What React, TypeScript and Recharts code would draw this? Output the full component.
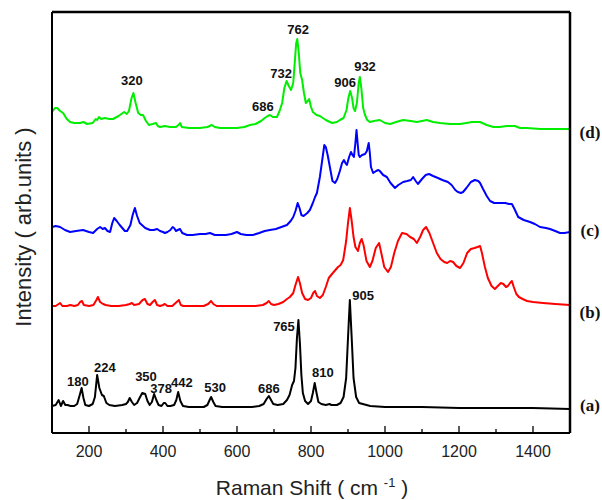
import React from 'react';
import { LineChart, Line, XAxis, YAxis, ReferenceDot, ReferenceLine } from 'recharts';

// Wavenumber (cm-1) axis ticks
const wavenumberTicks = [200, 300, 400, 500, 600, 700, 800, 900, 1000, 1100, 1200, 1300, 1400];
const labeledTicks = [200, 400, 600, 800, 1000, 1200, 1400];
const xDomain = [100, 1500];
const yDomain = [0, 421];

// Spectrum (a) – black: [wavenumber, intensity (arb., offset)]
const spectrumA: number[][] = [
  [100, 27], [110, 28], [118, 33], [124, 27], [130, 32], [136, 28], [142, 28], [150, 27], [160, 27], [168, 29],
  [175, 38], [180, 45], [185, 35], [190, 28], [200, 27], [210, 29], [216, 36], [222, 58], [228, 45], [235, 38],
  [240, 37], [247, 30], [255, 28], [270, 27], [290, 28], [300, 29], [305, 31], [310, 35], [316, 31], [322, 28],
  [330, 30], [338, 36], [344, 40], [352, 39], [358, 32], [364, 28], [370, 31], [376, 39], [382, 33], [388, 28],
  [396, 27], [402, 30], [406, 30], [412, 27], [420, 27], [430, 28], [436, 33], [441, 41], [447, 32], [454, 27],
  [470, 26], [490, 26], [510, 26], [520, 28], [526, 33], [530, 36], [536, 31], [542, 27], [560, 26], [600, 26],
  [640, 26], [660, 27], [672, 29], [680, 34], [686, 37], [692, 33], [698, 29], [710, 28], [725, 29], [735, 33],
  [742, 38], [749, 48], [754, 52], [758, 65], [762, 95], [766, 113], [770, 90], [774, 58], [778, 40], [784, 32],
  [792, 29], [800, 32], [805, 40], [810, 50], [815, 40], [820, 31], [828, 29], [840, 28], [850, 29], [855, 28],
  [870, 28], [880, 30], [888, 36], [895, 55], [900, 95], [905, 133], [910, 95], [915, 55], [922, 36], [930, 30],
  [940, 29], [960, 27], [1000, 26], [1100, 26], [1200, 25], [1300, 25], [1400, 25], [1500, 24],
];

// Spectrum (b) – red
const spectrumB: number[][] = [
  [100, 127], [110, 127], [118, 129], [122, 130], [128, 127], [140, 127], [150, 128], [160, 127], [170, 128], [176, 131],
  [181, 132], [186, 128], [200, 127], [212, 128], [220, 133], [224, 136], [230, 131], [238, 129], [245, 128], [260, 127],
  [280, 127], [300, 128], [310, 129], [316, 130], [322, 128], [335, 129], [345, 133], [351, 134], [358, 129], [365, 128],
  [372, 131], [378, 133], [384, 128], [392, 127], [400, 128], [405, 129], [412, 127], [425, 127], [437, 131], [443, 133],
  [448, 128], [455, 127], [480, 127], [510, 127], [522, 129], [530, 132], [536, 129], [545, 127], [600, 127], [650, 127],
  [670, 128], [680, 130], [686, 132], [692, 129], [700, 128], [712, 129], [725, 131], [735, 134], [743, 136], [752, 140],
  [758, 148], [765, 156], [770, 150], [776, 140], [784, 134], [792, 133], [800, 135], [806, 140], [811, 142], [816, 137],
  [824, 135], [832, 138], [840, 146], [848, 155], [859, 160], [866, 163], [873, 166], [880, 168], [887, 173], [895, 192],
  [900, 210], [905, 225], [910, 212], [915, 196], [920, 186], [927, 182], [932, 190], [937, 194], [942, 188], [950, 172],
  [959, 166], [966, 172], [975, 185], [984, 190], [990, 180], [998, 166], [1008, 161], [1016, 166], [1025, 180], [1035, 192],
  [1046, 200], [1058, 199], [1068, 196], [1078, 194], [1086, 190], [1095, 196], [1103, 203], [1111, 206], [1120, 200], [1130, 190],
  [1140, 180], [1150, 174], [1160, 171], [1168, 170], [1176, 172], [1184, 171], [1193, 167], [1203, 165], [1212, 170], [1222, 180],
  [1232, 184], [1242, 185], [1250, 186], [1257, 187], [1262, 180], [1270, 166], [1278, 155], [1288, 147], [1297, 144], [1305, 147],
  [1313, 150], [1320, 149], [1327, 146], [1332, 147], [1338, 150], [1343, 152], [1348, 146], [1355, 139], [1362, 136], [1372, 134],
  [1384, 132], [1400, 131], [1427, 130], [1460, 129], [1500, 128],
];

// Spectrum (c) – blue
const spectrumC: number[][] = [
  [100, 206], [110, 207], [122, 206], [135, 203], [149, 201], [165, 202], [184, 203], [200, 201], [211, 200], [222, 204],
  [230, 206], [237, 204], [243, 205], [250, 202], [257, 201], [263, 210], [268, 215], [275, 212], [283, 208], [290, 205],
  [297, 202], [303, 202], [312, 208], [318, 218], [324, 225], [330, 217], [337, 210], [343, 208], [352, 205], [365, 203],
  [375, 203], [384, 204], [392, 202], [400, 201], [405, 200], [412, 201], [420, 203], [426, 206], [430, 205], [435, 202],
  [440, 203], [446, 204], [452, 200], [465, 198], [480, 198], [500, 199], [515, 199], [527, 200], [540, 198], [554, 198],
  [570, 198], [585, 199], [600, 201], [610, 199], [625, 198], [643, 198], [660, 200], [675, 202], [689, 203], [705, 204],
  [720, 206], [735, 208], [745, 212], [752, 216], [758, 222], [764, 230], [769, 225], [774, 218], [780, 217], [790, 220],
  [797, 223], [805, 230], [811, 236], [816, 240], [820, 248], [824, 256], [830, 272], [836, 288], [840, 286], [845, 278],
  [851, 266], [858, 252], [865, 250], [871, 254], [878, 262], [884, 270], [889, 273], [893, 270], [897, 268], [903, 276],
  [908, 281], [912, 278], [916, 276], [920, 290], [923, 303], [926, 290], [929, 278], [932, 276], [938, 278], [946, 279],
  [951, 282], [956, 290], [959, 280], [962, 266], [968, 260], [976, 262], [982, 263], [986, 262], [995, 258], [1005, 256],
  [1015, 250], [1027, 245], [1036, 248], [1049, 251], [1060, 252], [1070, 253], [1076, 256], [1083, 252], [1089, 249], [1100, 254],
  [1110, 258], [1119, 259], [1130, 257], [1143, 255], [1155, 253], [1170, 251], [1180, 248], [1190, 243], [1197, 241], [1205, 240],
  [1211, 241], [1220, 245], [1232, 251], [1243, 253], [1252, 252], [1257, 250], [1265, 244], [1275, 237], [1284, 232], [1295, 230],
  [1311, 230], [1325, 230], [1335, 229], [1343, 229], [1350, 224], [1360, 216], [1375, 213], [1392, 211], [1405, 209], [1419, 206],
  [1435, 205], [1446, 204], [1460, 202], [1473, 200], [1485, 200], [1500, 201],
];

// Spectrum (d) – green
const spectrumD: number[][] = [
  [100, 321], [108, 325], [114, 325], [122, 322], [130, 320], [140, 314], [149, 311], [160, 310], [176, 310], [185, 311],
  [195, 309], [210, 310], [218, 314], [222, 313], [227, 316], [233, 314], [243, 315], [255, 314], [265, 314], [280, 317],
  [295, 321], [302, 319], [308, 322], [315, 335], [320, 340], [326, 330], [333, 320], [340, 318], [346, 318], [354, 312],
  [362, 308], [372, 309], [381, 310], [386, 307], [392, 306], [405, 307], [419, 306], [435, 306], [442, 308], [446, 310],
  [451, 306], [470, 305], [500, 305], [520, 306], [532, 308], [540, 306], [554, 305], [580, 305], [600, 305], [620, 306],
  [635, 308], [650, 309], [665, 312], [675, 315], [683, 317], [689, 318], [697, 316], [708, 316], [715, 322], [722, 330],
  [728, 345], [734, 352], [740, 347], [746, 343], [752, 350], [756, 370], [760, 390], [763, 394], [767, 380], [771, 360],
  [776, 353], [781, 340], [786, 330], [791, 332], [795, 334], [800, 326], [805, 321], [815, 318], [824, 317], [840, 313],
  [857, 310], [870, 311], [878, 313], [888, 315], [896, 323], [901, 335], [906, 342], [911, 335], [915, 325], [919, 322],
  [924, 330], [929, 350], [932, 356], [936, 345], [941, 325], [946, 318], [952, 313], [959, 311], [970, 312], [986, 313],
  [1000, 310], [1014, 309], [1030, 311], [1049, 313], [1070, 312], [1086, 311], [1100, 312], [1113, 313], [1130, 311], [1149, 310],
  [1175, 309], [1203, 309], [1220, 310], [1235, 311], [1257, 311], [1275, 308], [1293, 306], [1310, 306], [1329, 307], [1351, 307],
  [1365, 305], [1383, 305], [1420, 304], [1460, 304], [1500, 304],
];

// Peak annotations: text anchored at (wavenumber, intensity)
const peakLabelsA = [
  { x: 170, y: 52, text: '180' },
  { x: 243, y: 66, text: '224' },
  { x: 354, y: 57, text: '350' },
  { x: 395, y: 45, text: '378' },
  { x: 451, y: 51, text: '442' },
  { x: 541, y: 46, text: '530' },
  { x: 686, y: 45, text: '686' },
  { x: 727, y: 107, text: '765' },
  { x: 832, y: 61, text: '810' },
  { x: 941, y: 138, text: '905' },
];
const peakLabelsD = [
  { x: 316, y: 353, text: '320' },
  { x: 670, y: 327, text: '686' },
  { x: 719, y: 360, text: '732' },
  { x: 765, y: 404, text: '762' },
  { x: 892, y: 351, text: '906' },
  { x: 946, y: 367, text: '932' },
];
const sampleLabels = [
  { x: 1500, y: 28, text: '(a)' },
  { x: 1500, y: 121, text: '(b)' },
  { x: 1500, y: 203, text: '(c)' },
  { x: 1500, y: 301, text: '(d)' },
];

const seriesList = [
  { name: 'a', data: spectrumA, color: '#000000' },
  { name: 'b', data: spectrumB, color: '#ff0000' },
  { name: 'c', data: spectrumC, color: '#0000ff' },
  { name: 'd', data: spectrumD, color: '#00ee00' },
];

const toPoints = (arr: number[][]) => arr.map(([x, y]) => ({ x, y }));

const SANS = '"Liberation Sans", Arial, sans-serif';
const SERIF = '"Liberation Serif", "Times New Roman", serif';

const renderTick = (props: any) => {
  const { x, y, payload } = props;
  const v = payload.value;
  const major = labeledTicks.includes(v);
  return (
    <g>
      <line x1={x} x2={x} y1={y} y2={y - (major ? 7 : 4)} stroke="#000" strokeWidth={1.3} />
      {major && (
        <text x={x} y={y + 24} textAnchor="middle" fontFamily={SANS} fontSize={16} fill="#222">
          {v}
        </text>
      )}
    </g>
  );
};

const peakShape = (text: string) => (p: any) => (
  <text
    x={p.cx}
    y={p.cy}
    textAnchor="middle"
    dominantBaseline="central"
    fontFamily={SANS}
    fontWeight="bold"
    fontSize={13}
    fill="#111"
  >
    {text}
  </text>
);

const sampleShape = (text: string) => (p: any) => (
  <text
    x={p.cx + 20}
    y={p.cy}
    textAnchor="middle"
    dominantBaseline="central"
    fontFamily={SERIF}
    fontWeight="bold"
    fontSize={17}
    fill="#111"
  >
    {text}
  </text>
);

export default function App() {
  return (
    <div style={{ position: 'absolute', left: 0, top: 0, width: 602, height: 500, background: '#fff' }}>
      <LineChart width={602} height={500} margin={{ top: 12, right: 32, left: 52, bottom: 0 }}>
        <XAxis
          dataKey="x"
          type="number"
          domain={xDomain}
          ticks={wavenumberTicks}
          interval={0}
          tick={renderTick}
          tickLine={false}
          axisLine={false}
          tickSize={0}
          tickMargin={0}
          height={67}
          allowDataOverflow
        />
        <YAxis type="number" domain={yDomain} hide allowDataOverflow />
        {seriesList.map((s) => (
          <Line
            key={s.name}
            data={toPoints(s.data)}
            dataKey="y"
            type="linear"
            stroke={s.color}
            strokeWidth={2}
            strokeLinejoin="round"
            dot={false}
            isAnimationActive={false}
          />
        ))}
        <ReferenceLine y={yDomain[0]} stroke="#000" strokeWidth={2} ifOverflow="visible" />
        <ReferenceLine y={yDomain[1]} stroke="#000" strokeWidth={2.5} ifOverflow="visible" />
        <ReferenceLine x={xDomain[0]} stroke="#000" strokeWidth={2} ifOverflow="visible" />
        <ReferenceLine x={xDomain[1]} stroke="#000" strokeWidth={2.5} ifOverflow="visible" />
        {[...peakLabelsA, ...peakLabelsD].map((l, i) => (
          <ReferenceDot key={'p' + i} x={l.x} y={l.y} r={0} ifOverflow="visible" shape={peakShape(l.text)} />
        ))}
        {sampleLabels.map((l, i) => (
          <ReferenceDot key={'s' + i} x={l.x} y={l.y} r={0} ifOverflow="visible" shape={sampleShape(l.text)} />
        ))}
      </LineChart>
      <div
        style={{
          position: 'absolute',
          left: 312,
          top: 487,
          transform: 'translate(-50%, -50%)',
          whiteSpace: 'nowrap',
          fontFamily: SANS,
          fontSize: 21,
          color: '#222',
        }}
      >
        Raman Shift ( cm <sup style={{ fontSize: 13 }}>-1</sup> )
      </div>
      <div
        style={{
          position: 'absolute',
          left: 24,
          top: 227,
          transform: 'translate(-50%, -50%) rotate(-90deg)',
          whiteSpace: 'nowrap',
          fontFamily: SANS,
          fontSize: 22,
          color: '#222',
        }}
      >
        Intensity ( arb.units )
      </div>
    </div>
  );
}
